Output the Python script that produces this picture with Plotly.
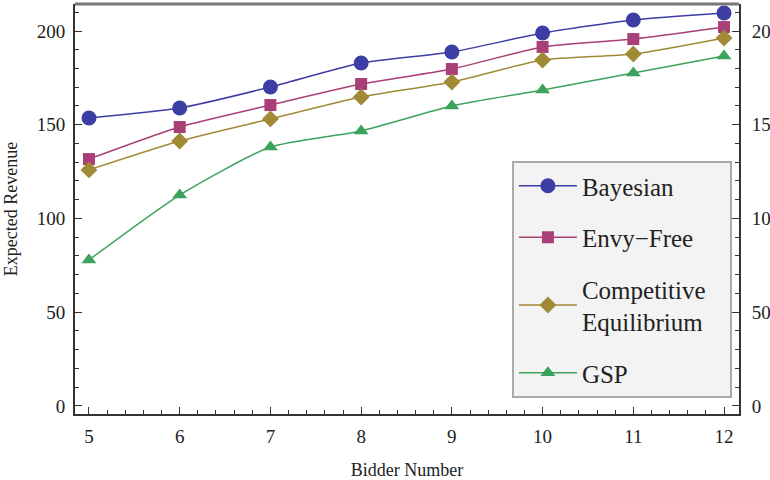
import plotly.graph_objects as go

bidders = [5, 6, 7, 8, 9, 10, 11, 12]
bayesian = [153.6, 158.9, 170.1, 182.9, 188.8, 198.9, 205.9, 209.6]
envy_free = [131.7, 148.8, 160.5, 171.7, 179.7, 191.5, 195.7, 202.1]
competitive = [125.9, 141.3, 153.1, 164.8, 172.8, 184.5, 187.7, 196.3]
gsp = [77.9, 112.5, 138.1, 146.7, 160.0, 168.5, 177.6, 186.7]

names = ["Bayesian", "Envy\u2212Free", "Competitive&nbsp;&nbsp;&nbsp;<br>Equilibrium", "GSP"]
series = [bayesian, envy_free, competitive, gsp]
colors = ["#3d3da6", "#a83f76", "#a08a36", "#3ca35c"]
symbols = ["circle", "square", "diamond", "triangle-up"]
sizes = [15, 12, 13, 13]

FONT = "Liberation Serif"

fig = go.Figure()
for i, (nm, ys) in enumerate(zip(names, series)):
    fig.add_trace(go.Scatter(
        x=bidders, y=ys, name=nm, mode="lines+markers",
        line=dict(color=colors[i], width=1.5, shape="spline", smoothing=0.6),
        marker=dict(symbol=symbols[i], size=sizes[i], color=colors[i], line=dict(width=0)),
        legendgroup=str(i),
    ))
# invisible trace for right axis
fig.add_trace(go.Scatter(x=[bidders[0]], y=[0], yaxis="y2", showlegend=False,
                         mode="markers", marker=dict(opacity=0), hoverinfo="skip"))

yr = [-4.3, 214.4]
tf = dict(family=FONT, size=19, color="#222")
fig.update_layout(
    width=770, height=480,
    margin=dict(l=75, r=31, t=4, b=66),
    paper_bgcolor="white", plot_bgcolor="white",
    font=dict(family=FONT, color="#222222", size=18),
    xaxis=dict(range=[4.846, 12.165], tickvals=bidders, ticks="inside", ticklen=7,
               tickwidth=1.2, tickcolor="#333", showgrid=False, zeroline=False,
               showline=True, linecolor="#333", linewidth=2, automargin=False,
               minor=dict(dtick=0.2, tick0=5, ticks="inside", ticklen=4, tickcolor="#333", showgrid=False),
               title=dict(text="Bidder Number", font=dict(family=FONT, size=18), standoff=20),
               tickfont=tf, ticklabelstandoff=4),
    yaxis=dict(range=yr, tickvals=[0, 50, 100, 150, 200], ticks="inside", ticklen=7,
               tickwidth=1.2, tickcolor="#333", showgrid=False, zeroline=False,
               showline=True, linecolor="#333", linewidth=2, automargin=False,
               minor=dict(dtick=10, tick0=0, ticks="inside", ticklen=4, tickcolor="#333", showgrid=False),
               title=dict(text="Expected Revenue", font=dict(family=FONT, size=18), standoff=14),
               tickfont=tf, ticklabelstandoff=4),
    yaxis2=dict(range=yr, overlaying="y", side="right", tickvals=[0, 50, 100, 150, 200],
                ticks="inside", ticklen=7, tickwidth=1.2, tickcolor="#333", showgrid=False,
                zeroline=False, showline=True, linecolor="#333", linewidth=2, automargin=False,
                minor=dict(dtick=10, tick0=0, ticks="inside", ticklen=4, tickcolor="#333", showgrid=False),
                tickfont=tf, ticklabelstandoff=7),
    legend=dict(x=0.658, y=0.039, xanchor="left", yanchor="bottom",
                bgcolor="#f3f3f3", bordercolor="#aaaaaa", borderwidth=2,
                font=dict(size=25, family=FONT, color="#222"),
                tracegroupgap=16, itemwidth=58),
    showlegend=True,
)
fig.add_shape(type="line", xref="paper", yref="paper", x0=0, x1=1, y0=1, y1=1,
              line=dict(color="#777777", width=3))

fig.write_html("out.html")
